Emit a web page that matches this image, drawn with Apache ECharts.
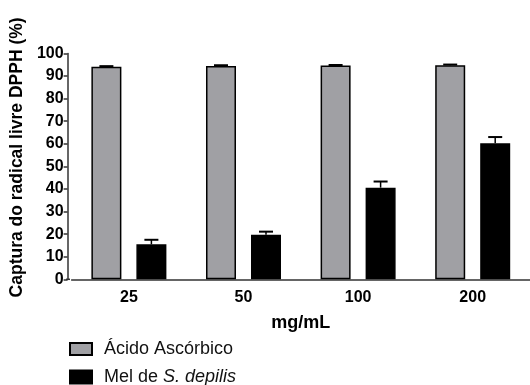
<!DOCTYPE html>
<html><head><meta charset="utf-8">
<script src="https://cdn.jsdelivr.net/npm/echarts@6/dist/echarts.min.js"></script>
<style>html,body{margin:0;padding:0;background:#fff}#c{width:530px;height:385px}</style>
</head><body><div id="c"></div>
<script>
const categories = ['25', '50', '100', '200'];
const acidoValues = [94.1, 94.5, 94.7, 94.8];
const acidoErrors = [0.3, 0.3, 0.2, 0.3];
const melValues = [15.5, 19.7, 40.6, 60.2];
const melErrors = [2.0, 1.4, 2.7, 2.8];
const yTicks = [0, 10, 20, 30, 40, 50, 60, 70, 80, 90, 100];
const seriesNames = ['Ácido Ascórbico', 'Mel de S. depilis'];

const FONT = 'Liberation Sans, Arial, sans-serif';
const chart = echarts.init(document.getElementById('c'));

function errSeries(values, errors, seriesIndex) {
  return {
    type: 'custom',
    name: 'err' + seriesIndex,
    z: 1,
    silent: true,
    data: values.map((v, i) => [i, v, v + errors[i]]),
    renderItem: function (params, api) {
      const c = api.value(0);
      const base = api.coord([c, api.value(1)]);
      const top = api.coord([c, api.value(2)]);
      const off = seriesIndex === 0 ? -22.5 : 22.5;
      const x = base[0] + off;
      const hw = 7;
      return {
        type: 'group',
        children: [
          { type: 'line', shape: { x1: x, y1: base[1], x2: x, y2: top[1] }, style: { stroke: '#000', lineWidth: 1.5 } },
          { type: 'line', shape: { x1: x - hw, y1: top[1], x2: x + hw, y2: top[1] }, style: { stroke: '#000', lineWidth: 2 } }
        ]
      };
    }
  };
}

const legendText = { fontFamily: FONT, fontSize: 18, color: '#111', padding: [0, 0, 0, 7],
  rich: { it: { fontStyle: 'italic', fontSize: 18, fontFamily: FONT, color: '#111' } } };

chart.setOption({
  animation: false,
  textStyle: { fontFamily: FONT },
  grid: { left: 70, top: 53.5, width: 468, height: 225.8 },
  legend: [
    { left: 64, top: 335, itemWidth: 22, itemHeight: 12, icon: 'rect', data: [seriesNames[0]], textStyle: legendText },
    { left: 64, top: 363, itemWidth: 22, itemHeight: 13, icon: 'rect', data: [seriesNames[1]], textStyle: legendText,
      formatter: function (n) { return 'Mel de {it|S. depilis}'; } }
  ],
  xAxis: {
    type: 'category', data: categories,
    name: 'mg/mL', nameLocation: 'middle', nameGap: 35,
    nameTextStyle: { fontFamily: FONT, fontSize: 18, fontWeight: 'bold', color: '#000' },
    axisLine: { lineStyle: { color: '#333', width: 1.5 } },
    axisTick: { alignWithLabel: true, length: 5, lineStyle: { color: '#333', width: 1.5 } },
    axisLabel: { fontFamily: FONT, fontSize: 16, fontWeight: 'bold', color: '#000', margin: 10 }
  },
  yAxis: {
    type: 'value', min: 0, max: 100, interval: 10, offset: 4,
    name: 'Captura do radical livre DPPH (%)', nameLocation: 'middle', nameGap: 39,
    nameTextStyle: { fontFamily: FONT, fontSize: 17.5, fontWeight: 'bold', color: '#000', padding: [0, 0, 0, 18] },
    axisLine: { show: true, lineStyle: { color: '#333', width: 1.5 } },
    axisTick: { show: true, length: 4, lineStyle: { color: '#333', width: 1.5 } },
    splitLine: { show: false },
    axisLabel: { fontFamily: FONT, fontSize: 16, fontWeight: 'bold', color: '#000', margin: 4,
      formatter: function (v) { return yTicks.indexOf(v) >= 0 ? String(v) : ''; } }
  },
  series: [
    { type: 'bar', name: seriesNames[0], data: acidoValues, barWidth: 30, barGap: '50%',
      itemStyle: { color: '#a0a0a4', borderColor: '#000', borderWidth: 1.5 }, z: 2 },
    { type: 'bar', name: seriesNames[1], data: melValues, barWidth: 30,
      itemStyle: { color: '#000', borderColor: '#000', borderWidth: 1.5 }, z: 2 },
    errSeries(acidoValues, acidoErrors, 0),
    errSeries(melValues, melErrors, 1)
  ],
  graphic: [
    { type: 'line', shape: { x1: 66, y1: 279.3, x2: 70, y2: 279.3 }, style: { stroke: '#333', lineWidth: 1.5 } }
  ]
});
</script></body></html>
